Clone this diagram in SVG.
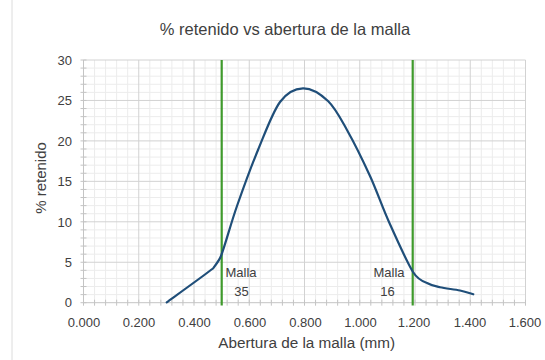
<svg xmlns="http://www.w3.org/2000/svg" width="545" height="360" viewBox="0 0 545 360">
<style>
text{font-family:"Liberation Sans",Arial,sans-serif;fill:#404040}
.minor{stroke:#ececec;stroke-width:1;fill:none}
.major{stroke:#d2d2d2;stroke-width:1;fill:none}
.axis{stroke:#c4c4c4;stroke-width:1;fill:none}
.tick{font-size:13px}
.ylab{text-anchor:end}
.xlab{text-anchor:middle}
.mesh{stroke:#3f9a2c;stroke-width:2.2;fill:none}
.lbl{font-size:13px;text-anchor:middle}
</style>
<rect width="545" height="360" fill="#ffffff"/>
<line x1="12" y1="0" x2="12" y2="360" stroke="#dcdcdc" stroke-width="1"/>
<g id="grid">
<path class="minor" d="M94.55 60V302.7M105.6 60V302.7M116.65 60V302.7M127.7 60V302.7M149.8 60V302.7M160.85 60V302.7M171.9 60V302.7M182.95 60V302.7M205.05 60V302.7M216.1 60V302.7M227.15 60V302.7M238.2 60V302.7M260.3 60V302.7M271.35 60V302.7M282.4 60V302.7M293.45 60V302.7M315.55 60V302.7M326.6 60V302.7M337.65 60V302.7M348.7 60V302.7M370.8 60V302.7M381.85 60V302.7M392.9 60V302.7M403.95 60V302.7M426.05 60V302.7M437.1 60V302.7M448.15 60V302.7M459.2 60V302.7M481.3 60V302.7M492.35 60V302.7M503.4 60V302.7M514.45 60V302.7"/>
<path class="minor" d="M83.5 294.61H525.5M83.5 286.52H525.5M83.5 278.43H525.5M83.5 270.34H525.5M83.5 254.16H525.5M83.5 246.07H525.5M83.5 237.98H525.5M83.5 229.89H525.5M83.5 213.71H525.5M83.5 205.62H525.5M83.5 197.53H525.5M83.5 189.44H525.5M83.5 173.26H525.5M83.5 165.17H525.5M83.5 157.08H525.5M83.5 148.99H525.5M83.5 132.81H525.5M83.5 124.72H525.5M83.5 116.63H525.5M83.5 108.54H525.5M83.5 92.36H525.5M83.5 84.27H525.5M83.5 76.18H525.5M83.5 68.09H525.5"/>
<path class="major" d="M138.75 60V302.7M194 60V302.7M249.25 60V302.7M304.5 60V302.7M359.75 60V302.7M415 60V302.7M470.25 60V302.7M525.5 60V302.7"/>
<path class="major" d="M83.5 262.25H525.5M83.5 221.8H525.5M83.5 181.35H525.5M83.5 140.9H525.5M83.5 100.45H525.5M83.5 60H525.5"/>
</g>
<g id="axes">
<path class="axis" d="M83.5 60V302.7M83.5 302.7H525.5"/>
<path class="axis" d="M83.5 299.7V305.7M94.55 299.7V305.7M105.6 299.7V305.7M116.65 299.7V305.7M127.7 299.7V305.7M138.75 299.7V305.7M149.8 299.7V305.7M160.85 299.7V305.7M171.9 299.7V305.7M182.95 299.7V305.7M194 299.7V305.7M205.05 299.7V305.7M216.1 299.7V305.7M227.15 299.7V305.7M238.2 299.7V305.7M249.25 299.7V305.7M260.3 299.7V305.7M271.35 299.7V305.7M282.4 299.7V305.7M293.45 299.7V305.7M304.5 299.7V305.7M315.55 299.7V305.7M326.6 299.7V305.7M337.65 299.7V305.7M348.7 299.7V305.7M359.75 299.7V305.7M370.8 299.7V305.7M381.85 299.7V305.7M392.9 299.7V305.7M403.95 299.7V305.7M415 299.7V305.7M426.05 299.7V305.7M437.1 299.7V305.7M448.15 299.7V305.7M459.2 299.7V305.7M470.25 299.7V305.7M481.3 299.7V305.7M492.35 299.7V305.7M503.4 299.7V305.7M514.45 299.7V305.7M525.5 299.7V305.7"/>
<path class="axis" d="M80.5 302.7H86.5M80.5 294.61H86.5M80.5 286.52H86.5M80.5 278.43H86.5M80.5 270.34H86.5M80.5 262.25H86.5M80.5 254.16H86.5M80.5 246.07H86.5M80.5 237.98H86.5M80.5 229.89H86.5M80.5 221.8H86.5M80.5 213.71H86.5M80.5 205.62H86.5M80.5 197.53H86.5M80.5 189.44H86.5M80.5 181.35H86.5M80.5 173.26H86.5M80.5 165.17H86.5M80.5 157.08H86.5M80.5 148.99H86.5M80.5 140.9H86.5M80.5 132.81H86.5M80.5 124.72H86.5M80.5 116.63H86.5M80.5 108.54H86.5M80.5 100.45H86.5M80.5 92.36H86.5M80.5 84.27H86.5M80.5 76.18H86.5M80.5 68.09H86.5M80.5 60H86.5"/>
</g>
<g id="y-labels" class="tick ylab">
<text x="72" y="307.4">0</text>
<text x="72" y="267">5</text>
<text x="72" y="226.5">10</text>
<text x="72" y="186">15</text>
<text x="72" y="145.6">20</text>
<text x="72" y="105.1">25</text>
<text x="72" y="64.7">30</text>
</g>
<g id="x-labels" class="tick xlab">
<text x="84" y="327">0.000</text>
<text x="139" y="327">0.200</text>
<text x="194.5" y="327">0.400</text>
<text x="250" y="327">0.600</text>
<text x="305.5" y="327">0.800</text>
<text x="360.5" y="327">1.000</text>
<text x="414" y="327">1.200</text>
<text x="470" y="327">1.400</text>
<text x="525" y="327">1.600</text>
</g>
<g id="titles">
<text x="285" y="35" font-size="16.5" text-anchor="middle">% retenido vs abertura de la malla</text>
<text x="306.7" y="348" font-size="15.3" text-anchor="middle">Abertura de la malla (mm)</text>
<text transform="translate(46 178) rotate(-90)" font-size="15" text-anchor="middle">% retenido</text>
</g>
<g id="connectors">
<path id="malla-35-line" class="mesh" d="M221.7 60V305.5"/>
<path id="malla-16-line" class="mesh" d="M412.7 60V305.5"/>
<path id="curve" fill="none" stroke="#1f4e79" stroke-width="2.2" stroke-linejoin="round" stroke-linecap="round" d="M166.7 302.3C174.4 296.7 206 274 213 268.5C216 264.5 219.5 259.9 221 256C225 245.6 230.8 223.7 237 206C243.2 188.3 250.8 167.3 258 150C265.2 132.7 272.5 112.3 280 102C287.5 91.7 295 88.5 303 88.3C311 88.1 320.7 94.05 328 101C335.3 107.95 340 117.5 347 130C354 142.5 363 160.7 370 176C377 191.3 381.8 206 389 222C396.2 238 406.7 261.8 413 272C416.8 278.1 422 281.3 427 283C431.5 285.55 434.5 286.05 440 287.3C445.5 288.55 454.45 289.33 460 290.5C465.55 291.67 471.1 293.67 473.3 294.3"/>
</g>
<g id="malla-35">
<text class="lbl" x="241" y="276.5">Malla</text>
<text class="lbl" x="241.5" y="296">35</text>
</g>
<g id="malla-16">
<text class="lbl" x="389" y="276.5">Malla</text>
<text class="lbl" x="387.5" y="296">16</text>
</g>
</svg>
